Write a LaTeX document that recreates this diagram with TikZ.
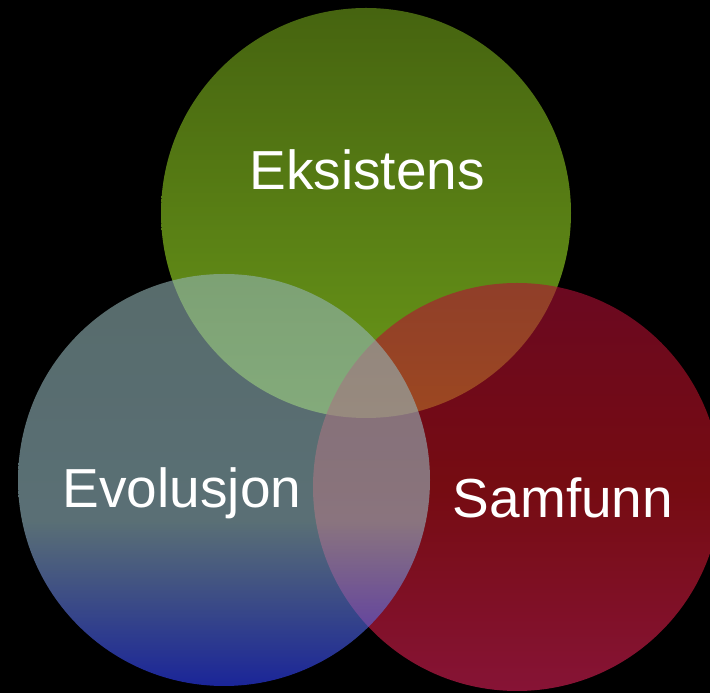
\documentclass[tikz,border=0pt]{standalone}
\usepackage{fontspec}
\setmainfont{Liberation Sans}
\definecolor{gtop}{RGB}{117,167,27}
\definecolor{gbot}{RGB}{178,255,42}
\definecolor{rtop}{RGB}{178,15,55}
\definecolor{rmid}{RGB}{197,20,30}
\definecolor{rbot}{RGB}{225,33,90}
\definecolor{btop}{RGB}{147,180,180}
\definecolor{bmid}{RGB}{150,186,196}
\definecolor{bbot}{RGB}{45,62,255}
\pgfdeclareverticalshading{bluevenn}{100bp}{color(0bp)=(bbot); color(25bp)=(bbot); color(45bp)=(bmid); color(75bp)=(btop); color(100bp)=(btop)}
\pgfdeclareverticalshading{redvenn}{100bp}{color(0bp)=(rbot); color(25bp)=(rbot); color(50bp)=(rmid); color(75bp)=(rtop); color(100bp)=(rtop)}
\begin{document}
\begin{tikzpicture}[x=1pt,y=1pt,
  venn/.style={circle, inner sep=0pt, fill opacity=0.6, draw=none},
  lbl/.style={text=white, font=\fontsize{55}{66}\selectfont, inner sep=0pt, anchor=base}]
\useasboundingbox (0,0) rectangle (710,693);
\fill[black] (0,0) rectangle (710,693);
\clip (0,0) rectangle (710,693);
\node[venn, minimum size=410pt, top color=gtop, bottom color=gbot] (eks) at (366,480) {};
\node[venn, minimum size=408pt, shading=redvenn] (sam) at (517,206) {};
\node[venn, minimum size=412pt, shading=bluevenn] (evo) at (224,213) {};
\node[lbl] (teks) at (367,503) {Eksistens};
\node[lbl] (tevo) at (182,185) {Evolusjon};
\node[lbl] (tsam) at (563,175) {Samfunn};
\end{tikzpicture}
\end{document}
